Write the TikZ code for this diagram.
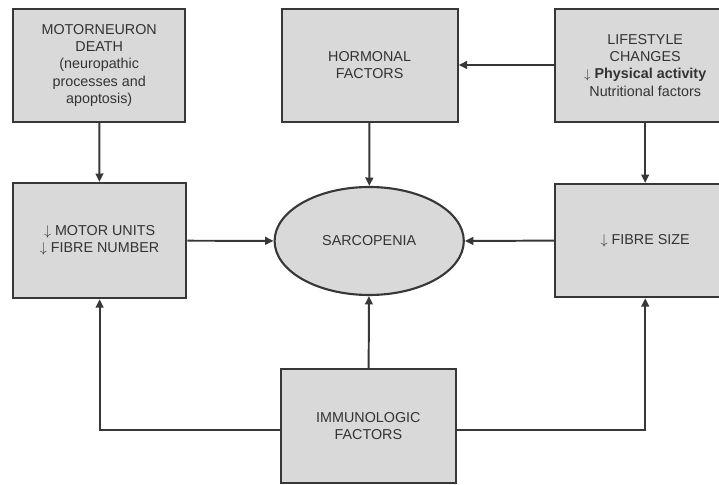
\documentclass[tikz,border=0pt]{standalone}
\usepackage{fontspec}
\setmainfont{Liberation Sans}
\usetikzlibrary{arrows.meta,shapes.geometric}
\definecolor{boxgray}{RGB}{217,217,217}
\definecolor{linegray}{RGB}{55,55,55}
\tikzset{
  factor/.style={rectangle,draw=linegray,fill=boxgray,line width=1.5pt,
    text=black!80,align=center,font=\fontsize{10.2}{12.2}\selectfont,
    minimum height=2.83cm},
  link/.style={-{Triangle[length=6pt,width=5.5pt]},line width=1.4pt,draw=linegray}
}
\begin{document}
\begin{tikzpicture}
\useasboundingbox (0,0) rectangle (17.975,12.125);
\clip (0,0) rectangle (17.975,12.125);

\node (mnd) at (2.48,10.49) [factor,minimum width=4.3cm] {MOTORNEURON\\DEATH\\(neuropathic\\processes and\\apoptosis)};
\node (hor) at (9.24,10.49) [factor,minimum width=4.4cm] {HORMONAL\\FACTORS};
\node (life) at (16.13,10.49) [factor,minimum width=4.5cm] {LIFESTYLE\\CHANGES\\{\small$\downarrow$} \textbf{Physical activity}\\Nutritional factors};

\node (mu) at (2.49,6.11) [factor,minimum width=4.33cm,minimum height=2.88cm] {$\downarrow$ MOTOR UNITS\\$\downarrow$ FIBRE NUMBER};
\node (sarc) at (9.23,6.1) [ellipse,draw=linegray,fill=boxgray,line width=1.5pt,text=black!80,
  font=\fontsize{10.2}{12.2}\selectfont,minimum width=4.73cm,minimum height=2.7cm,inner sep=0pt] {SARCOPENIA};
\node (fs) at (16.13,6.11) [factor,minimum width=4.5cm] {$\downarrow$ FIBRE SIZE};

\node (imm) at (9.21,1.475) [factor,minimum width=4.38cm,minimum height=2.85cm] {IMMUNOLOGIC\\FACTORS};

\draw [link] (mnd) -- (mu);
\draw [link] (life.west |- 0,10.5) -- (hor.east |- 0,10.5);
\draw [link] (hor) -- (sarc);
\draw [link] (life.south -| 16.13,0) -- (fs.north -| 16.13,0);
\draw [link] (mu) -- (sarc);
\draw [link] (fs.west) -- (sarc.east);
\draw [link] (imm) -- (sarc);
\draw [link] (imm.west |- 0,1.375) -| (mu.south);
\draw [link] (imm.east |- 0,1.375) -| (fs.south -| 16.13,0);

\end{tikzpicture}
\end{document}
